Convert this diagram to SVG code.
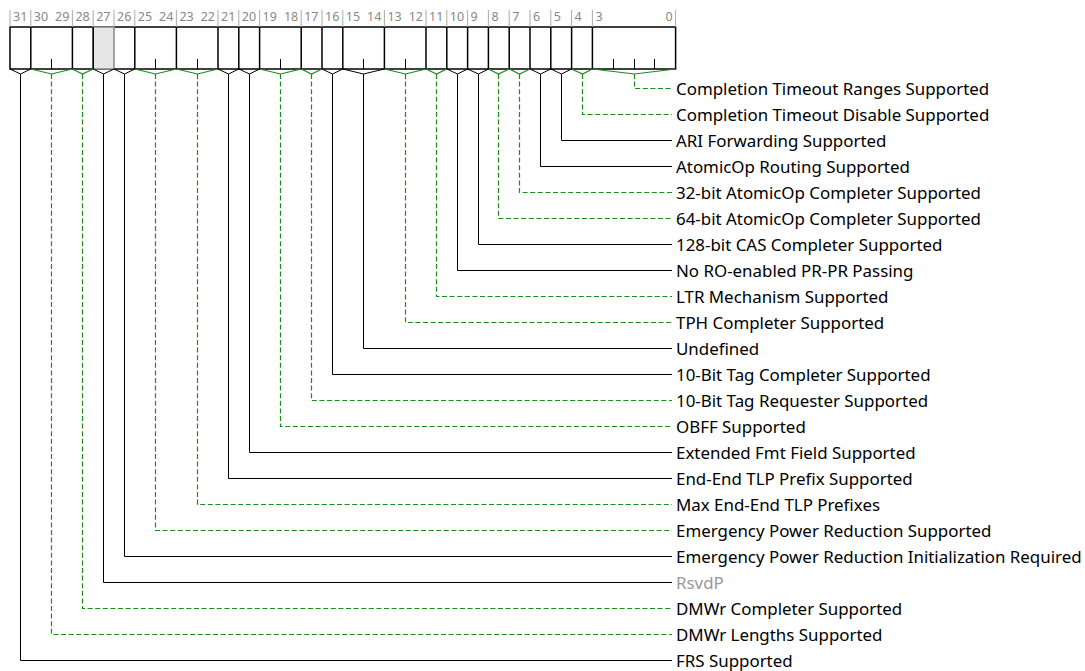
<svg xmlns="http://www.w3.org/2000/svg" width="1085" height="671" viewBox="0 0 1085 671">
<style>
.bg{fill:#fff}
.box{fill:#fff;stroke:#000;stroke-width:1.5}
.rsv{fill:#e6e6e6;stroke:#888;stroke-width:1.5}
.sep{stroke:#000;stroke-width:1.5}
.itk{stroke:#000;stroke-width:1}
.ttk{stroke:#aaa;stroke-width:1}
.bn{font-family:"Noto Sans","Liberation Sans",sans-serif;font-size:12.5px;fill:#888}
.lb{font-family:"Noto Sans","Liberation Sans",sans-serif;font-size:16.9px;fill:#000}
.lbg{font-family:"Noto Sans","Liberation Sans",sans-serif;font-size:16.9px;fill:#999}
.vb{fill:none;stroke:#000;stroke-width:1}
.vg{fill:none;stroke:#1a8c1a;stroke-width:1.2}
.cb{fill:none;stroke:#000;stroke-width:1}
.cg{fill:none;stroke:#1a8c1a;stroke-width:1.2;stroke-dasharray:5 2.6}
</style>
<rect class="bg" x="0" y="0" width="1085" height="671"/>

<g id="register">
  <rect class="box" x="10" y="27" width="665.6" height="42"/>
  <rect class="rsv" x="93.2" y="27" width="20.8" height="42"/>
  <g id="top-ticks">
    <path class="ttk" d="M10 10V27M30.8 10V27M72.4 10V27M93.2 10V27M114 10V27M134.8 10V27M176.4 10V27M218 10V27M238.8 10V27M259.6 10V27M301.2 10V27M322 10V27M342.8 10V27M384.4 10V27M426 10V27M446.8 10V27M467.6 10V27M488.4 10V27M509.2 10V27M530 10V27M550.8 10V27M571.6 10V27M592.4 10V27M675.6 10V27"/>
  </g>
  <path class="sep" d="M30.8 27V69M72.4 27V69M93.2 27V69M134.8 27V69M176.4 27V69M218 27V69M238.8 27V69M259.6 27V69M301.2 27V69M322 27V69M342.8 27V69M384.4 27V69M426 27V69M446.8 27V69M467.6 27V69M488.4 27V69M509.2 27V69M530 27V69M550.8 27V69M571.6 27V69M592.4 27V69"/>
  <path class="itk" d="M51.5 59V69M155.5 59V69M197.5 59V69M280.5 59V69M363.5 59V69M405.5 59V69M613.5 59V69M634.5 59V69M654.5 59V69"/>
</g>

<g id="bit-numbers">
  <text class="bn" x="13" y="21">31</text>
  <text class="bn" x="33.8" y="21">30</text>
  <text class="bn" x="69.4" y="21" text-anchor="end">29</text>
  <text class="bn" x="75.4" y="21">28</text>
  <text class="bn" x="96.2" y="21">27</text>
  <text class="bn" x="117" y="21">26</text>
  <text class="bn" x="137.8" y="21">25</text>
  <text class="bn" x="173.4" y="21" text-anchor="end">24</text>
  <text class="bn" x="179.4" y="21">23</text>
  <text class="bn" x="215" y="21" text-anchor="end">22</text>
  <text class="bn" x="221" y="21">21</text>
  <text class="bn" x="241.8" y="21">20</text>
  <text class="bn" x="262.6" y="21">19</text>
  <text class="bn" x="298.2" y="21" text-anchor="end">18</text>
  <text class="bn" x="304.2" y="21">17</text>
  <text class="bn" x="325" y="21">16</text>
  <text class="bn" x="345.8" y="21">15</text>
  <text class="bn" x="381.4" y="21" text-anchor="end">14</text>
  <text class="bn" x="387.4" y="21">13</text>
  <text class="bn" x="423" y="21" text-anchor="end">12</text>
  <text class="bn" x="429" y="21">11</text>
  <text class="bn" x="449.8" y="21">10</text>
  <text class="bn" x="470.6" y="21">9</text>
  <text class="bn" x="491.4" y="21">8</text>
  <text class="bn" x="512.2" y="21">7</text>
  <text class="bn" x="533" y="21">6</text>
  <text class="bn" x="553.8" y="21">5</text>
  <text class="bn" x="574.6" y="21">4</text>
  <text class="bn" x="595.4" y="21">3</text>
  <text class="bn" x="672.6" y="21" text-anchor="end">0</text>
</g>

<g id="connectors">
  <path class="vg" d="M592.4 69L634.5 74L675.6 69"/><path class="cg" d="M634.5 74V88.5H672"/>
  <path class="vg" d="M571.6 69L582.5 74L592.4 69"/><path class="cg" d="M582.5 74V114.5H672"/>
  <path class="vb" d="M550.8 69L561.5 74L571.6 69"/><path class="cb" d="M561.5 74V140.5H672"/>
  <path class="vb" d="M530 69L540.5 74L550.8 69"/><path class="cb" d="M540.5 74V166.5H672"/>
  <path class="vg" d="M509.2 69L519.5 74L530 69"/><path class="cg" d="M519.5 74V192.5H672"/>
  <path class="vg" d="M488.4 69L498.5 74L509.2 69"/><path class="cg" d="M498.5 74V218.5H672"/>
  <path class="vb" d="M467.6 69L478.5 74L488.4 69"/><path class="cb" d="M478.5 74V244.5H672"/>
  <path class="vb" d="M446.8 69L457.5 74L467.6 69"/><path class="cb" d="M457.5 74V270.5H672"/>
  <path class="vg" d="M426 69L436.5 74L446.8 69"/><path class="cg" d="M436.5 74V296.5H672"/>
  <path class="vg" d="M384.4 69L405.5 74L426 69"/><path class="cg" d="M405.5 74V322.5H672"/>
  <path class="vb" d="M342.8 69L363.5 74L384.4 69"/><path class="cb" d="M363.5 74V348.5H672"/>
  <path class="vb" d="M322 69L332.5 74L342.8 69"/><path class="cb" d="M332.5 74V374.5H672"/>
  <path class="vg" d="M301.2 69L311.5 74L322 69"/><path class="cg" d="M311.5 74V400.5H672"/>
  <path class="vg" d="M259.6 69L280.5 74L301.2 69"/><path class="cg" d="M280.5 74V426.5H672"/>
  <path class="vb" d="M238.8 69L249.5 74L259.6 69"/><path class="cb" d="M249.5 74V452.5H672"/>
  <path class="vb" d="M218 69L228.5 74L238.8 69"/><path class="cb" d="M228.5 74V478.5H672"/>
  <path class="vg" d="M176.4 69L197.5 74L218 69"/><path class="cg" d="M197.5 74V504.5H672"/>
  <path class="vg" d="M134.8 69L155.5 74L176.4 69"/><path class="cg" d="M155.5 74V530.5H672"/>
  <path class="vb" d="M114 69L124.5 74L134.8 69"/><path class="cb" d="M124.5 74V556.5H672"/>
  <path class="vb" d="M93.2 69L103.5 74L114 69"/><path class="cb" d="M103.5 74V582.5H672"/>
  <path class="vg" d="M72.4 69L82.5 74L93.2 69"/><path class="cg" d="M82.5 74V608.5H672"/>
  <path class="vg" d="M30.8 69L51.5 74L72.4 69"/><path class="cg" d="M51.5 74V634.5H672"/>
  <path class="vb" d="M10 69L20.5 74L30.8 69"/><path class="cb" d="M20.5 74V660.5H672"/>
</g>

<g id="f3_0"><text class="lb" x="676" y="94.5">Completion Timeout Ranges Supported</text></g>
<g id="f4"><text class="lb" x="676" y="120.5">Completion Timeout Disable Supported</text></g>
<g id="f5"><text class="lb" x="676" y="146.5">ARI Forwarding Supported</text></g>
<g id="f6"><text class="lb" x="676" y="172.5">AtomicOp Routing Supported</text></g>
<g id="f7"><text class="lb" x="676" y="198.5">32-bit AtomicOp Completer Supported</text></g>
<g id="f8"><text class="lb" x="676" y="224.5">64-bit AtomicOp Completer Supported</text></g>
<g id="f9"><text class="lb" x="676" y="250.5">128-bit CAS Completer Supported</text></g>
<g id="f10"><text class="lb" x="676" y="276.5">No RO-enabled PR-PR Passing</text></g>
<g id="f11"><text class="lb" x="676" y="302.5">LTR Mechanism Supported</text></g>
<g id="f13_12"><text class="lb" x="676" y="328.5">TPH Completer Supported</text></g>
<g id="f15_14"><text class="lb" x="676" y="354.5">Undefined</text></g>
<g id="f16"><text class="lb" x="676" y="380.5">10-Bit Tag Completer Supported</text></g>
<g id="f17"><text class="lb" x="676" y="406.5">10-Bit Tag Requester Supported</text></g>
<g id="f19_18"><text class="lb" x="676" y="432.5">OBFF Supported</text></g>
<g id="f20"><text class="lb" x="676" y="458.5">Extended Fmt Field Supported</text></g>
<g id="f21"><text class="lb" x="676" y="484.5">End-End TLP Prefix Supported</text></g>
<g id="f23_22"><text class="lb" x="676" y="510.5">Max End-End TLP Prefixes</text></g>
<g id="f25_24"><text class="lb" x="676" y="536.5">Emergency Power Reduction Supported</text></g>
<g id="f26"><text class="lb" x="676" y="562.5">Emergency Power Reduction Initialization Required</text></g>
<g id="f27"><text class="lbg" x="676" y="588.5">RsvdP</text></g>
<g id="f28"><text class="lb" x="676" y="614.5">DMWr Completer Supported</text></g>
<g id="f30_29"><text class="lb" x="676" y="640.5">DMWr Lengths Supported</text></g>
<g id="f31"><text class="lb" x="676" y="666.5">FRS Supported</text></g>
</svg>
